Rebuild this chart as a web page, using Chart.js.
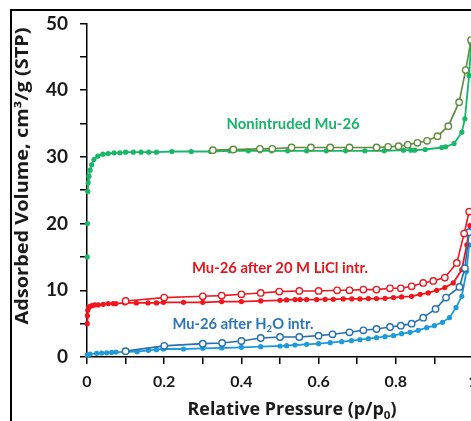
<html>
<head>
<script src="https://cdn.jsdelivr.net/npm/chart.js@4.4.0/dist/chart.umd.min.js"></script>
<style>
  body { margin: 0; background: #fff; }
  #wrap { position: relative; width: 471px; height: 421px; overflow: hidden; background: #fff; }
  #frame { position: absolute; left: 10px; top: 9px; width: 600px; height: 600px;
           border-top: 2px solid #000; border-left: 2px solid #000; }
  canvas { position: absolute; left: 0; top: 0; }
</style>
</head>
<body>
<div id="wrap">
  <div id="frame"></div>
  <canvas id="isoChart" width="490" height="421"></canvas>
</div>

<script>
  // Nonintruded Mu-26
  var nonAdsP = [0.0005, 0.001, 0.002, 0.003, 0.005, 0.008, 0.012, 0.018, 0.028, 0.041, 0.055, 0.07, 0.085, 0.10, 0.12, 0.14, 0.16, 0.18, 0.22, 0.27, 0.32, 0.37, 0.418, 0.448, 0.478, 0.52, 0.569, 0.62, 0.67, 0.72, 0.77, 0.82, 0.839, 0.849, 0.876, 0.919, 0.929, 0.951, 0.971, 0.979, 0.99, 0.995];
  var nonAdsV = [15, 20, 24.8, 26.1, 27.1, 28.0, 28.8, 29.6, 30.1, 30.4, 30.5, 30.6, 30.6, 30.7, 30.7, 30.7, 30.7, 30.7, 30.8, 30.8, 30.8, 30.9, 30.9, 30.9, 30.9, 30.9, 30.9, 30.9, 30.9, 30.9, 30.9, 31.0, 31.0, 31.0, 31.1, 31.4, 31.5, 32.0, 33.7, 35.7, 42.2, 47.0];
  var nonDesP = [0.995, 0.981, 0.964, 0.936, 0.908, 0.881, 0.856, 0.831, 0.807, 0.78, 0.75, 0.68, 0.63, 0.58, 0.53, 0.48, 0.448, 0.379, 0.326];
  var nonDesV = [47.5, 43.0, 38.2, 34.6, 33.1, 32.4, 32.1, 31.8, 31.6, 31.5, 31.4, 31.4, 31.4, 31.4, 31.4, 31.2, 31.2, 31.1, 31.0];

  // Mu-26 after 20 M LiCl intrusion
  var liclAdsP = [0.0005, 0.001, 0.002, 0.004, 0.008, 0.013, 0.02, 0.029, 0.042, 0.055, 0.068, 0.075, 0.098, 0.128, 0.158, 0.18, 0.198, 0.25, 0.30, 0.349, 0.40, 0.45, 0.50, 0.517, 0.539, 0.552, 0.569, 0.595, 0.617, 0.638, 0.664, 0.686, 0.707, 0.729, 0.75, 0.772, 0.794, 0.815, 0.841, 0.863, 0.884, 0.906, 0.927, 0.949, 0.971, 0.984, 0.992];
  var liclAdsV = [5.0, 6.2, 7.0, 7.4, 7.6, 7.7, 7.8, 7.8, 7.9, 8.0, 8.0, 8.0, 8.1, 8.1, 8.1, 8.1, 8.2, 8.2, 8.2, 8.3, 8.3, 8.4, 8.5, 8.55, 8.6, 8.6, 8.6, 8.6, 8.65, 8.65, 8.7, 8.7, 8.7, 8.75, 8.75, 8.8, 8.9, 9.0, 9.1, 9.4, 9.6, 10.0, 10.4, 11.1, 13.1, 16.8, 19.7];
  var liclDesP = [0.99, 0.977, 0.958, 0.927, 0.897, 0.871, 0.841, 0.813, 0.785, 0.75, 0.716, 0.68, 0.648, 0.60, 0.55, 0.498, 0.45, 0.40, 0.349, 0.30, 0.20, 0.10];
  var liclDesV = [21.8, 18.5, 14.1, 11.9, 11.4, 11.1, 10.6, 10.3, 10.3, 10.1, 10.1, 10.0, 10.0, 9.9, 9.9, 9.8, 9.6, 9.4, 9.2, 9.1, 8.9, 8.4];

  // Mu-26 after H2O intrusion
  var h2oAdsP = [0.0005, 0.008, 0.025, 0.038, 0.051, 0.064, 0.075, 0.13, 0.159, 0.18, 0.198, 0.25, 0.30, 0.349, 0.40, 0.45, 0.50, 0.517, 0.539, 0.569, 0.60, 0.63, 0.66, 0.685, 0.707, 0.729, 0.75, 0.772, 0.794, 0.815, 0.837, 0.858, 0.88, 0.90, 0.921, 0.939, 0.956, 0.971, 0.983, 0.99];
  var h2oAdsV = [0.3, 0.44, 0.55, 0.6, 0.63, 0.68, 0.74, 0.8, 1.0, 1.1, 1.2, 1.2, 1.3, 1.35, 1.45, 1.55, 1.65, 1.7, 1.8, 1.9, 2.0, 2.15, 2.3, 2.45, 2.6, 2.75, 2.9, 3.05, 3.2, 3.5, 3.7, 4.0, 4.4, 4.7, 5.2, 5.9, 7.4, 9.1, 12.8, 16.8];
  var h2oDesP = [0.99, 0.979, 0.965, 0.93, 0.903, 0.871, 0.841, 0.813, 0.785, 0.75, 0.716, 0.68, 0.636, 0.60, 0.55, 0.50, 0.45, 0.40, 0.35, 0.30, 0.20, 0.10];
  var h2oDesV = [18.7, 13.3, 10.5, 8.9, 7.2, 5.9, 5.0, 4.7, 4.5, 4.2, 4.0, 3.7, 3.4, 3.2, 3.0, 3.0, 2.85, 2.4, 2.1, 2.0, 1.67, 0.88];

  var xTicks = [0, 0.2, 0.4, 0.6, 0.8, 1];
  var yTicks = [0, 10, 20, 30, 40, 50];

  var fontFam = "Lato, 'Open Sans', sans-serif";
  var titleFam = "'Open Sans', Lato, sans-serif";

  function pts(px, py) {
    return px.map(function (p, i) { return { x: p, y: py[i] }; });
  }

  function adsSet(px, py, color) {
    return {
      data: pts(px, py), showLine: true, borderColor: color, backgroundColor: color,
      borderWidth: 1.8, pointRadius: 2.6, pointBorderWidth: 0, pointBackgroundColor: color,
      tension: 0, clip: false, order: 2,
      // the first near-zero points sit on the axis line, no visible segment there
      segment: { borderColor: function (c) { return c.p1.parsed.y - c.p0.parsed.y > 4 && c.p0.parsed.x < 0.0015 ? 'rgba(0,0,0,0)' : undefined; } }
    };
  }
  function desSet(px, py, color) {
    return {
      data: pts(px, py), showLine: true, borderColor: color, backgroundColor: '#fff',
      borderWidth: 1.6, pointRadius: 3.2, pointBorderWidth: 1.4, pointBackgroundColor: '#fff',
      pointBorderColor: color, tension: 0, clip: false, order: 1
    };
  }

  // text drawn with sub/superscript parts, optionally squeezed/stretched to a width
  function drawRich(ctx, parts, x, y, size, color, rot, fam, width) {
    fam = fam || fontFam;
    ctx.save();
    ctx.translate(x, y);
    if (rot) ctx.rotate(rot);
    ctx.fillStyle = color;
    ctx.textBaseline = 'middle';
    var total = 0;
    parts.forEach(function (pt) {
      var s = pt[1] ? size * 0.65 : size;
      ctx.font = 'bold ' + s + 'px ' + fam;
      total += ctx.measureText(pt[0]).width;
    });
    if (width) ctx.scale(width / total, 1);
    var cx = -total / 2;
    parts.forEach(function (pt) {
      var s = pt[1] ? size * 0.65 : size;
      ctx.font = 'bold ' + s + 'px ' + fam;
      var dy = pt[1] === 'sub' ? size * 0.32 : (pt[1] === 'sup' ? -size * 0.3 : 0);
      ctx.textAlign = 'left';
      ctx.fillText(pt[0], cx, dy);
      cx += ctx.measureText(pt[0]).width;
    });
    ctx.restore();
  }

  var labelPlugin = {
    id: 'labels',
    afterDraw: function (chart) {
      var ctx = chart.ctx;
      var xs = chart.scales.x, ys = chart.scales.y;
      drawRich(ctx, [['Nonintruded Mu-26']], xs.getPixelForValue(0.534), ys.getPixelForValue(34.9), 15.5, '#19b46a', 0, fontFam, 133);
      drawRich(ctx, [['Mu-26 after 20 M LiCl intr.']], xs.getPixelForValue(0.5), ys.getPixelForValue(13.3), 15.5, '#e8141c', 0, fontFam, 176);
      drawRich(ctx, [['Mu-26 after H'], ['2', 'sub'], ['O intr.']], xs.getPixelForValue(0.404), ys.getPixelForValue(5.0), 15.5, '#2a76b6', 0, fontFam, 141);
      // axis titles
      drawRich(ctx, [['Relative Pressure (p/p'], ['0', 'sub'], [')']], 292, 410, 17, '#1a1a1a', 0, titleFam, 209);
      drawRich(ctx, [['Adsorbed Volume, cm³/g (STP)']], 23, 176, 17, '#1a1a1a', -Math.PI / 2, titleFam, 297);
    }
  };

  var ctx = document.getElementById('isoChart');
  this.chart = new Chart(ctx, {
    type: 'scatter',
    data: {
      datasets: [
        desSet(nonDesP, nonDesV, '#5e8b3e'),
        adsSet(nonAdsP, nonAdsV, '#16b868'),
        desSet(liclDesP, liclDesV, '#ea1a22'),
        adsSet(liclAdsP, liclAdsV, '#f2141c'),
        desSet(h2oDesP, h2oDesV, '#2470b0'),
        adsSet(h2oAdsP, h2oAdsV, '#1d9bd8')
      ]
    },
    options: {
      responsive: false,
      animation: false,
      layout: { padding: { left: 0, top: 18, right: 17, bottom: 0 } },
      plugins: { legend: { display: false }, tooltip: { enabled: false } },
      scales: {
        x: {
          type: 'linear', min: 0, max: 1,
          border: { color: '#000', width: 1.5 },
          grid: { drawOnChartArea: false, color: '#000', tickLength: 7, lineWidth: 1.5 },
          ticks: {
            stepSize: 0.1, autoSkip: false, maxRotation: 0, padding: 8, color: '#1a1a1a',
            font: { family: fontFam, weight: 'bold', size: 16 },
            callback: function (v) {
              var t = Math.round(v * 10) / 10;
              return xTicks.indexOf(t) >= 0 ? String(t) : '';
            }
          },
          afterFit: function (s) { s.height = 64; }
        },
        y: {
          min: 0, max: 50,
          border: { color: '#000', width: 1.5 },
          grid: { drawOnChartArea: false, color: '#000', tickLength: 7, lineWidth: 1.5 },
          ticks: {
            stepSize: 5, autoSkip: false, padding: 12, color: '#1a1a1a',
            font: { family: fontFam, weight: 'bold', size: 19 },
            callback: function (v) { return yTicks.indexOf(v) >= 0 ? String(v) : ''; }
          },
          afterFit: function (s) { s.width = 87; }
        }
      }
    },
    plugins: [labelPlugin]
  });
</script>
</body>
</html>
